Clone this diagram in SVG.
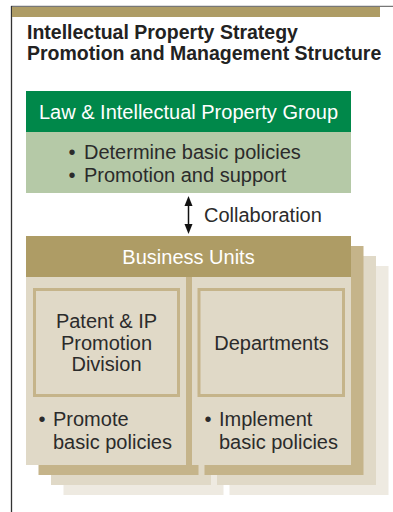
<svg xmlns="http://www.w3.org/2000/svg" width="393" height="512" viewBox="0 0 393 512">
  <style>
    .t { font-family: "Liberation Sans", Arial, sans-serif; font-size: 20px; fill: #2b2b2b; }
    .w { fill: #ffffff; }
    .c { text-anchor: middle; }
    .title { font-family: "Liberation Sans", Arial, sans-serif; font-size: 19.5px; font-weight: bold; fill: #222222; }
    .l1 { fill: #c5b48a; }
    .l2 { fill: #e0d9c7; }
    .l3 { fill: #eeeae1; }
    .card { fill: #e0d9c7; }
    .inner { fill: #e0d9c7; stroke: #c5b48a; stroke-width: 3; }
    .head { fill: #111111; }
  </style>
  <rect width="393" height="512" fill="#ffffff"/>
  <g id="frame">
    <line x1="11" y1="6.3" x2="393" y2="6.3" stroke="#555555" stroke-width="1"/>
    <line x1="11.5" y1="6" x2="11.5" y2="512" stroke="#333333" stroke-width="1.3"/>
    <rect x="12" y="7" width="368" height="10" fill="#ae9c65"/>
  </g>
  <g id="title">
    <text class="title" x="27" y="39">Intellectual Property Strategy</text>
    <text class="title" x="27" y="60">Promotion and Management Structure</text>
  </g>
  <g id="law-ip-group">
    <rect x="26" y="91" width="325" height="41" fill="#00884a"/>
    <rect x="26" y="132" width="325" height="61" fill="#b5c9a7"/>
    <text class="t w c" x="188.5" y="119">Law &amp; Intellectual Property Group</text>
    <text class="t" x="68.5" y="159">•</text>
    <text class="t" x="84" y="159">Determine basic policies</text>
    <text class="t" x="68.5" y="182">•</text>
    <text class="t" x="84" y="182">Promotion and support</text>
  </g>
  <g id="connectors">
    <line x1="188.5" y1="204" x2="188.5" y2="226" stroke="#111111" stroke-width="1.5"/>
    <path class="head" d="M188.5,196 L192.5,206 L184.5,206 Z"/>
    <path class="head" d="M188.5,234 L192.5,224 L184.5,224 Z"/>
    <text class="t" x="204" y="222">Collaboration</text>
  </g>
  <g id="business-units">
    <g id="stack-layers">
      <rect class="l3" x="63.5" y="266" width="160" height="229"/>
      <rect class="l3" x="229.5" y="266" width="159" height="229"/>
      <rect class="l2" x="51" y="256" width="160" height="229"/>
      <rect class="l2" x="217" y="256" width="159" height="229"/>
      <rect class="l1" x="38.5" y="246" width="160" height="229"/>
      <rect class="l1" x="204.5" y="246" width="159" height="229"/>
    </g>
    <g id="patent-ip-card">
      <rect class="card" x="26" y="236" width="160" height="229"/>
      <rect class="inner" x="34.5" y="289.5" width="144" height="106"/>
      <text class="t c" x="106.5" y="328">Patent &amp; IP</text>
      <text class="t c" x="106.5" y="349.5">Promotion</text>
      <text class="t c" x="106.5" y="371">Division</text>
      <text class="t" x="38.5" y="426">•</text>
      <text class="t" x="53" y="426">Promote</text>
      <text class="t" x="53" y="449">basic policies</text>
    </g>
    <g id="departments-card">
      <rect class="card" x="192" y="236" width="159" height="229"/>
      <rect class="inner" x="199" y="289.5" width="144.5" height="106"/>
      <text class="t c" x="271.5" y="350">Departments</text>
      <text class="t" x="204.5" y="426">•</text>
      <text class="t" x="219" y="426">Implement</text>
      <text class="t" x="219" y="449">basic policies</text>
    </g>
    <rect x="26" y="236" width="325" height="41" fill="#ae9c65"/>
    <text class="t w c" x="188.5" y="264">Business Units</text>
  </g>
</svg>
